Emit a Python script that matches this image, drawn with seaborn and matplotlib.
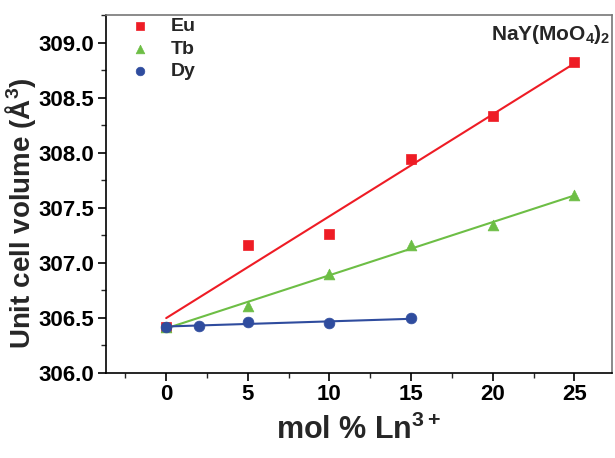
import numpy as np
import pandas as pd
import seaborn as sns
import matplotlib
matplotlib.use("Agg")
import matplotlib.pyplot as plt
from matplotlib.ticker import MultipleLocator

sns.set_style("ticks")
plt.rcParams['font.family'] = ['Liberation Sans', 'DejaVu Sans']
plt.rcParams['mathtext.fontset'] = 'custom'
plt.rcParams['mathtext.rm'] = 'Liberation Sans:bold'
plt.rcParams['mathtext.bf'] = 'Liberation Sans:bold'
plt.rcParams['mathtext.it'] = 'Liberation Sans:bold'
plt.rcParams['mathtext.default'] = 'bf'

eu_x = [0, 5, 10, 15, 20, 25]
eu_y = [306.42, 307.16, 307.26, 307.94, 308.33, 308.82]
tb_x = [0, 5, 10, 15, 20, 25]
tb_y = [306.42, 306.61, 306.90, 307.16, 307.34, 307.62]
dy_x = [0, 2, 5, 10, 15]
dy_y = [306.42, 306.43, 306.46, 306.45, 306.50]

series = [("Eu", eu_x, eu_y, "#EE1C25", "s"),
          ("Tb", tb_x, tb_y, "#6DBE45", "^"),
          ("Dy", dy_x, dy_y, "#2F4C9E", "o")]

fig = plt.figure(figsize=(6.15, 4.58), dpi=100)
ax = fig.add_axes([0.172, 0.1856, 0.823, 0.7814])

for name, xs, ys, col, mk in series:
    df = pd.DataFrame({"x": xs, "y": ys})
    sns.regplot(data=df, x="x", y="y", ax=ax, ci=None, scatter=False,
                truncate=True, color=col, line_kws={"lw": 1.5})
for name, xs, ys, col, mk in series:
    df = pd.DataFrame({"x": xs, "y": ys})
    sns.scatterplot(data=df, x="x", y="y", ax=ax, color=col, marker=mk,
                    s=60, edgecolor=col, linewidth=0.5, label=name, zorder=3)

ax.set_xlim(-3.7, 27.3)
ax.set_ylim(306.0, 309.25)
ax.xaxis.set_major_locator(MultipleLocator(5))
ax.xaxis.set_minor_locator(MultipleLocator(2.5))
ax.yaxis.set_major_locator(MultipleLocator(0.5))
ax.yaxis.set_minor_locator(MultipleLocator(0.25))
ax.tick_params(axis='both', which='major', direction='out', length=6, width=1.2,
               labelsize=16, colors='black', pad=2)
ax.tick_params(axis='both', which='minor', direction='out', length=3.5, width=1.0)
for lab in ax.get_xticklabels() + ax.get_yticklabels():
    lab.set_fontweight('bold')
ax.yaxis.set_major_formatter(matplotlib.ticker.FormatStrFormatter('%.1f'))
for sp in ax.spines.values():
    sp.set_visible(True)
    sp.set_linewidth(1.2)
ax.spines['top'].set_color('#777777')
ax.spines['right'].set_color('#777777')
ax.spines['left'].set_color('black')
ax.spines['bottom'].set_color('black')

ax.set_xlabel("mol % Ln$^{3+}$", fontsize=22, fontweight='bold', labelpad=7)
ax.set_ylabel("Unit cell volume (Å$^3$)", fontsize=20, fontweight='bold')
ax.yaxis.set_label_coords(-0.134, 0.445)

ax.text(0.998, 0.945, "NaY(MoO$_4$)$_2$", transform=ax.transAxes, ha='right',
        va='center', fontsize=15, fontweight='bold')

leg = ax.legend(loc='upper left', frameon=False, prop={'weight': 'bold', 'size': 14},
                handletextpad=0.6, borderaxespad=0.1, labelspacing=0.25,
                bbox_to_anchor=(0.01, 1.02), markerscale=0.8)

fig.savefig("out.png", dpi=100)
